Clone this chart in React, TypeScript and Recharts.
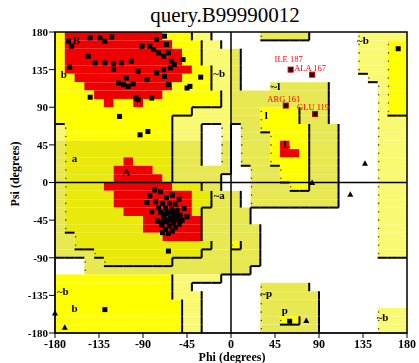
import {
  ReferenceArea,
  ReferenceDot,
  ReferenceLine,
  Scatter,
  ScatterChart,
  XAxis,
  YAxis,
} from "recharts";

const ticks = [-180, -135, -90, -45, 0, 45, 90, 135, 180];

// region map on a 10 degree grid: one row per psi band (180 down to -180),
// runs of cells from phi -180. R core, Y/A allowed, G/H generous, . outside
const regionRows = [
  "Y1 R10 Y3 G2 .5 H5 .5 G5",
  "Y1 R11 Y3 G2 .14 G3 Y2",
  "Y1 R12 Y2 G3 H1 .12 G3 Y2",
  "Y1 R12 Y2 G3 H1 .12 G3 Y2",
  "Y1 R13 Y2 G2 H1 .12 G3 Y2",
  "Y2 R11 Y3 G2 H1 .13 G2 Y2",
  "Y3 R9 Y4 G2 H1 .3 H6 .5 G1 Y2",
  "Y4 R7 Y6 G1 H10 .5 G1 Y2",
  "Y5 R1 Y2 R1 Y8 G1 H10 .5 G1 Y2",
  "Y14 G4 H3 Y4 H3 .5 G1 Y2",
  "Y12 G6 H3 Y4 H3 .5 G3",
  "G1 Y11 G3 .2 G1 .1 H2 Y5 H3 .4 G3",
  "G1 Y11 G3 .2 G1 .1 H3 Y4 H3 .4 G3",
  "H1 A11 H3 .2 H1 .1 H3 Y1 R1 Y2 H3 .4 G3",
  "H1 A11 H3 .2 H1 .1 H3 Y1 R2 Y1 H3 .4 G3",
  "H1 A6 R1 A4 H3 .2 H1 .1 H3 Y4 H3 .4 G3",
  "H1 A5 R4 A2 H6 .2 H3 Y3 H3 .4 G3",
  "H1 A5 R5 A1 H5 .3 H3 Y3 H3 .4 G3",
  "H1 A4 R7 A3 H2 .3 H4 Y2 H3 .4 G3",
  "H1 A5 R8 A2 H3 .1 H9 .4 G3",
  "H1 A5 R8 A2 H3 .1 H9 .4 G3",
  "H1 A6 R7 A1 H5 .13 G3",
  "H1 A8 R6 H5 .13 G3",
  "H1 A8 R6 H6 .12 G3",
  "H2 A9 R4 H6 .12 G3",
  "H2 A14 H2 Y1 H2 .12 G3",
  "H4 A11 H6 .12 G3",
  ".3 H2 A7 H9 .15",
  ".3 H17 .16",
  "Y12 G5 .19",
  "Y12 G2 .7 H5 .10",
  "Y12 G3 .6 H6 .9",
  "Y13 G2 .6 H6 .9",
  "Y13 G2 .6 H6 .6 G3",
  "Y13 G2 .6 H2 Y2 H2 .6 G3",
  "Y13 G2 .6 H6 .6 G3",
];

const regionColors: Record<string, string> = {
  R: "#ee0000",
  Y: "#ffff00",
  A: "#e9e90c",
  G: "#fafa72",
  H: "#e8e852",
};
const regionLevel: Record<string, number> = { R: 3, Y: 2, A: 2, G: 1, H: 1, ".": 0 };

// residues (phi, psi)
const betaResidues = [
  [-166, 169], [-163, 163], [-144, 173], [-134, 173], [-129, 169], [-122, 174],
  [-146, 151], [-139, 143], [-129, 143], [-120, 142], [-112, 143], [-102, 145],
  [-120, 135], [-107, 125], [-110, 117], [-105, 115], [-95, 133], [-86, 123],
  [-91, 163], [-83, 163], [-79, 159], [-76, 171], [-68, 175], [-74, 155],
  [-69, 151], [-64, 155], [-66, 165], [-61, 145], [-69, 135], [-68, 127],
  [-62, 137], [-49, 147], [-76, 131], [-64, 117], [-45, 113], [-42, 115],
  [-31, 126], [-165, 138], [-115, 119], [-100, 118], [-97, 101], [-144, 102],
  [-95, 99], [-81, 101], [-114, 79], [-93, 57], [-85, 61], [-58, 141],
];
const alphaResidues = [
  [-78, -9], [-72, -11], [-83, -16], [-60, -15], [-66, -18], [-53, -20],
  [-86, -24], [-77, -23], [-70, -25], [-63, -25], [-57, -26], [-48, -31],
  [-74, -30], [-67, -31], [-61, -32], [-55, -33], [-81, -35], [-72, -36],
  [-65, -37], [-58, -38], [-52, -39], [-45, -41], [-69, -42], [-62, -43],
  [-56, -44], [-50, -45], [-75, -46], [-66, -47], [-59, -48], [-53, -50],
  [-71, -51], [-63, -52], [-57, -54], [-67, -56], [-60, -58], [-64, -61],
  [-70, -60], [-55, -40], [-62, -36], [-68, -38], [-59, -42], [-64, -45],
  [-57, -35], [-70, -48], [-52, -46], [-64, -82],
];
const otherResidues = [[-129, -152], [60, -166], [171, 160]];
const glyResidues = [[137, 23], [122, -14], [83, 0], [77, -165], [-180, -156], [-170, -173]];
const flaggedNames = ["ILE 187", "ALA 167", "ARG 161", "GLU 119"];
const flaggedPhi = [61, 83, 56, 86];
const flaggedPsi = [135, 129, 92, 82];

const regionLabelText = ["B", "b", "~b", "a", "A", "~a", "~b", "b", "~l", "l", "L", "~b", "~b", "~p", "p"];
const regionLabelPhi = [-158, -171, -12, -160, -107, -12, -172, -160, 46, 36, 57, 135, 155, 36, 55];
const regionLabelPsi = [170, 130, 131, 29, 12, -15, -130, -150, 116, 81, 46, 171, -161, -132, -153];

const parseRow = (spec: string) => {
  const cells: string[] = [];
  spec.split(" ").forEach((run) => {
    const n = parseInt(run.slice(1), 10);
    for (let i = 0; i < n; i++) cells.push(run[0]);
  });
  return cells.slice(0, 36);
};
const grid = regionRows.map(parseRow);
const lvl = (r: number, c: number) =>
  r < 0 || r > 35 || c < 0 || c > 35 ? -1 : regionLevel[grid[r][c]] ?? 0;

const rects: { x1: number; x2: number; y1: number; y2: number; fill: string }[] = [];
grid.forEach((cells, r) => {
  let c = 0;
  while (c < 36) {
    const code = cells[c];
    let e = c;
    while (e + 1 < 36 && cells[e + 1] === code) e++;
    if (code !== ".")
      rects.push({
        x1: -180 + 10 * c,
        x2: -170 + 10 * e,
        y1: 170 - 10 * r,
        y2: 180 - 10 * r,
        fill: regionColors[code],
      });
    c = e + 1;
  }
});

// shadow edges on the right and lower side of each region, dots on the left side
const edges: { x1: number; y1: number; x2: number; y2: number }[] = [];
const dots: { x: number; y: number }[] = [];
const shadow = (a: number, b: number) => a > b && a >= 1 && !(a === 3 && b === 2);
for (let r = 0; r < 36; r++) {
  for (let c = 0; c < 36; c++) {
    const l = lvl(r, c);
    const top = 180 - 10 * r;
    const left = -180 + 10 * c;
    if (c < 35 && shadow(l, lvl(r, c + 1)))
      edges.push({ x1: left + 10, y1: top, x2: left + 10, y2: top - 10 });
    if (r < 35 && shadow(l, lvl(r + 1, c)))
      edges.push({ x1: left, y1: top - 10, x2: left + 10, y2: top - 10 });
    if (c > 0 && l >= 1 && l < 3 && lvl(r, c - 1) < l && lvl(r, c - 1) >= 0)
      dots.push({ x: left + 1, y: top - 5 });
  }
}

const toPts = (arr: number[][]) => arr.map(([phi, psi]) => ({ phi, psi }));
// lift a label a little when another flagged residue sits just below and to the right
const flagged = flaggedNames.map((name, i) => {
  const crowded = flaggedPhi.some(
    (p, j) => j !== i && p > flaggedPhi[i] && p - flaggedPhi[i] < 35 &&
      flaggedPsi[i] - flaggedPsi[j] > 0 && flaggedPsi[i] - flaggedPsi[j] < 8
  );
  return { phi: flaggedPhi[i], psi: flaggedPsi[i], name, lift: crowded ? 4 : 0 };
});
const regionLabels = regionLabelText.map((text, i) => ({
  phi: regionLabelPhi[i],
  psi: regionLabelPsi[i],
  text,
}));

const font = "'Liberation Serif', 'DejaVu Serif', serif";

const Square = (p: any) => (
  <rect x={p.cx - 2.5} y={p.cy - 2.5} width={5} height={5} fill="#000" />
);
const Triangle = (p: any) => (
  <path d={`M${p.cx},${p.cy - 3}L${p.cx + 3},${p.cy + 2.5}L${p.cx - 3},${p.cy + 2.5}Z`} fill="#000" />
);
const Flagged = (p: any) => (
  <g>
    <rect x={p.cx - 2.5} y={p.cy - 2.5} width={5} height={5} fill="#111" stroke="#b00" strokeWidth={1} />
    <text
      x={p.cx - 2}
      y={p.cy - 4 - p.payload.lift}
      textAnchor="middle"
      fontSize={8.5}
      fill="#ff0000"
      fontFamily={font}
    >
      {p.payload.name}
    </text>
  </g>
);
const RegionText = (p: any) => (
  <text
    x={p.cx}
    y={p.cy + 4}
    textAnchor="middle"
    fontSize={11}
    fontWeight="bold"
    fill="#000"
    fontFamily={font}
  >
    {p.payload.text}
  </text>
);

export default function App() {
  const tick = { fontSize: 12, fontWeight: "bold", fill: "#000", fontFamily: font };
  return (
    <div style={{ position: "fixed", left: 0, top: 0, width: 419, height: 363, background: "#fff", fontFamily: font }}>
      <div
        style={{
          position: "absolute",
          left: 225,
          top: 3,
          transform: "translateX(-50%)",
          fontSize: 21,
          lineHeight: "24px",
          whiteSpace: "nowrap",
        }}
      >
        query.B99990012
      </div>
      <div
        style={{
          position: "absolute",
          left: 15,
          top: 174,
          transform: "translate(-50%, -50%) rotate(-90deg)",
          fontSize: 12,
          fontWeight: "bold",
          whiteSpace: "nowrap",
        }}
      >
        Psi (degrees)
      </div>
      <div
        style={{
          position: "absolute",
          left: 232,
          top: 357,
          transform: "translate(-50%, -50%)",
          fontSize: 12,
          fontWeight: "bold",
          whiteSpace: "nowrap",
        }}
      >
        Phi (degrees)
      </div>
      <ScatterChart width={419} height={363} margin={{ top: 32, right: 12, bottom: 0, left: 0 }}>
        <XAxis
          type="number"
          dataKey="phi"
          domain={[-180, 180]}
          ticks={ticks}
          height={30}
          tick={tick}
          tickSize={5}
          tickMargin={1}
          stroke="#000"
          interval={0}
        />
        <YAxis
          type="number"
          dataKey="psi"
          domain={[-180, 180]}
          ticks={ticks}
          width={55}
          tick={{ ...tick, fontSize: 11 }}
          tickSize={6}
          tickMargin={1}
          stroke="#000"
          interval={0}
        />
        {rects.map((a, i) => (
          <ReferenceArea
            key={`a${i}`}
            x1={a.x1}
            x2={a.x2}
            y1={a.y1}
            y2={a.y2}
            fill={a.fill}
            fillOpacity={1}
            stroke="none"
          />
        ))}
        {dots.map((d, i) => (
          <ReferenceDot key={`d${i}`} x={d.x} y={d.y} r={0.8} fill="#444" stroke="none" />
        ))}
        {edges.map((e, i) => (
          <ReferenceLine
            key={`e${i}`}
            segment={[
              { x: e.x1, y: e.y1 },
              { x: e.x2, y: e.y2 },
            ]}
            stroke="#000"
            strokeWidth={2}
          />
        ))}
        <ReferenceLine x={0} stroke="#000" strokeWidth={1.5} />
        <ReferenceLine y={0} stroke="#000" strokeWidth={1.5} />
        <ReferenceArea x1={-180} x2={180} y1={-180} y2={180} fill="none" stroke="#000" strokeWidth={1.5} />
        <Scatter data={regionLabels} shape={RegionText} isAnimationActive={false} />
        <Scatter data={toPts(betaResidues)} shape={Square} isAnimationActive={false} />
        <Scatter data={toPts(alphaResidues)} shape={Square} isAnimationActive={false} />
        <Scatter data={toPts(otherResidues)} shape={Square} isAnimationActive={false} />
        <Scatter data={toPts(glyResidues)} shape={Triangle} isAnimationActive={false} />
        <Scatter data={flagged} shape={Flagged} isAnimationActive={false} />
      </ScatterChart>
    </div>
  );
}
